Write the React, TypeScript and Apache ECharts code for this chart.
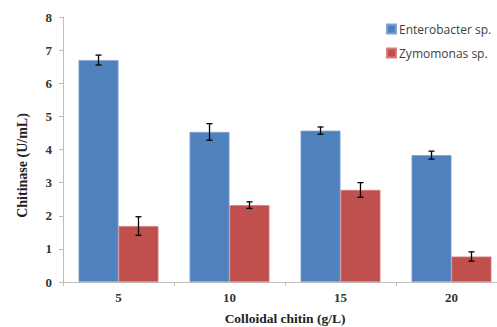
import React, { useEffect, useRef } from "react";
import * as echarts from "echarts";

const categories = ["5", "10", "15", "20"];
const enterobacter = [6.7, 4.53, 4.57, 3.83];
const enterobacterErr = [0.15, 0.25, 0.11, 0.12];
const zymomonas = [1.69, 2.32, 2.78, 0.77];
const zymomonasErr = [0.28, 0.1, 0.22, 0.14];
const yTitle = "Chitinase (U/mL)";
const xTitle = "Colloidal chitin (g/L)";

const BAR_FRAC = 0.36;

function errorSeries(values: number[], errs: number[], sign: number) {
  return {
    type: "custom",
    silent: true,
    z: 10,
    data: values.map((v, i) => [i, v - errs[i], v + errs[i]]),
    renderItem: (params: any, api: any) => {
      const idx = api.value(0);
      const lo = api.coord([idx, api.value(1)]);
      const hi = api.coord([idx, api.value(2)]);
      const band = api.size([1, 0])[0];
      const x = lo[0] + sign * band * BAR_FRAC / 2;
      const cap = 3;
      const style = { stroke: "#000", lineWidth: 1.3 };
      return {
        type: "group",
        children: [
          { type: "line", shape: { x1: x, y1: lo[1], x2: x, y2: hi[1] }, style },
          { type: "line", shape: { x1: x - cap, y1: lo[1], x2: x + cap, y2: lo[1] }, style },
          { type: "line", shape: { x1: x - cap, y1: hi[1], x2: x + cap, y2: hi[1] }, style },
        ],
      };
    },
  };
}

export default function App() {
  const ref = useRef<HTMLDivElement>(null);
  useEffect(() => {
    const chart = echarts.init(ref.current!, null, { renderer: "svg" });
    const serif = "Liberation Serif";
    chart.setOption({
      animation: false,
      backgroundColor: "#fff",
      grid: { left: 63, width: 444, top: 17, height: 265, containLabel: false, outerBoundsMode: "none" },
      legend: {
        orient: "vertical",
        left: 381,
        top: 18,
        itemWidth: 9,
        itemHeight: 9,
        itemGap: 12,
        icon: "rect",
        textStyle: { fontFamily: "Open Sans", fontSize: 12, color: "#404040", padding: [0, 0, 0, -2] },
        data: ["Enterobacter sp.", "Zymomonas sp."],
      },
      graphic: [
        {
          type: "text",
          x: 22,
          y: 165.5,
          rotation: Math.PI / 2,
          style: {
            text: yTitle,
            fontFamily: serif,
            fontWeight: "bold",
            fontSize: 14,
            fill: "#222",
            align: "center",
            verticalAlign: "middle",
          },
        },
      ],
      xAxis: {
        type: "category",
        data: categories,
        name: xTitle,
        nameLocation: "middle",
        nameGap: 29,
        nameTextStyle: { fontFamily: serif, fontWeight: "bold", fontSize: 13.5, color: "#222" },
        axisLine: { lineStyle: { color: "#bfbfbf" } },
        axisTick: { show: true, length: 4, lineStyle: { color: "#bfbfbf" } },
        axisLabel: { fontFamily: serif, fontWeight: "bold", fontSize: 13, color: "#333", margin: 9 },
      },
      yAxis: {
        type: "value",
        min: 0,
        max: 8,
        interval: 1,
        axisLine: { show: true, lineStyle: { color: "#bfbfbf" } },
        axisTick: { show: true, length: 4, lineStyle: { color: "#bfbfbf" } },
        splitLine: { show: false },
        axisLabel: { fontFamily: serif, fontWeight: "bold", fontSize: 13, color: "#333", margin: 11 },
      },
      series: [
        {
          name: "Enterobacter sp.",
          type: "bar",
          data: enterobacter,
          barWidth: "36%",
          barGap: "0%",
          itemStyle: { color: "#4F81BD", borderColor: "#7FA3D0", borderWidth: 0.8 },
        },
        {
          name: "Zymomonas sp.",
          type: "bar",
          data: zymomonas,
          barWidth: "36%",
          barGap: "0%",
          itemStyle: { color: "#C0504D", borderColor: "#D47E7C", borderWidth: 0.8 },
        },
        errorSeries(enterobacter, enterobacterErr, -1),
        errorSeries(zymomonas, zymomonasErr, 1),
      ],
    } as any);
    return () => chart.dispose();
  }, []);
  return <div ref={ref} style={{ width: 497, height: 327, position: "absolute", left: 0, top: 0 }} />;
}
